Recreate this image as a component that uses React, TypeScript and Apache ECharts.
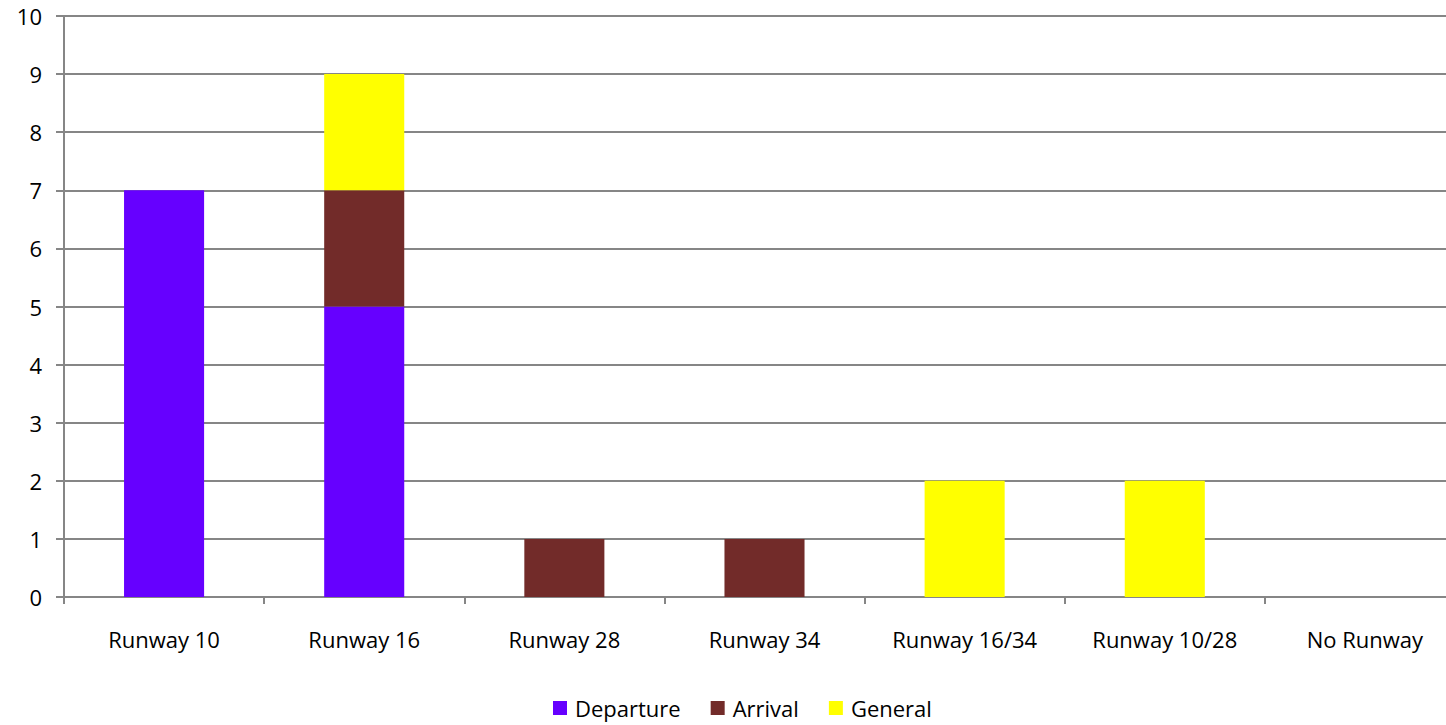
import React, { useEffect, useRef } from "react";
import * as echarts from "echarts";

const categories = ["Runway 10", "Runway 16", "Runway 28", "Runway 34", "Runway 16/34", "Runway 10/28", "No Runway"];
const departure = [7, 5, 0, 0, 0, 0, 0];
const arrival = [0, 2, 1, 1, 0, 0, 0];
const general = [0, 2, 0, 0, 2, 2, 0];

const FONT = "'Open Sans', 'Noto Sans', sans-serif";

export default function App() {
  const ref = useRef<HTMLDivElement>(null);
  useEffect(() => {
    const chart = echarts.init(ref.current!, null, { renderer: "svg" });
    const mk = (name: string, data: number[], color: string) => ({
      name,
      type: "bar",
      stack: "total",
      data: data.map((v) => (v === 0 ? null : v)),
      barWidth: "40%",
      itemStyle: { color },
    });
    chart.setOption({
      animation: false,
      textStyle: { fontFamily: FONT },
      grid: { left: 64, right: 1, top: 16, bottom: 128 },
      legend: {
        bottom: 6,
        left: 553,
        padding: 0,
        itemWidth: 14,
        itemHeight: 14,
        itemGap: 30,
        icon: "rect",
        textStyle: { fontSize: 22, color: "#000", fontFamily: FONT, padding: [0, 0, 0, 3] },
        data: ["Departure", "Arrival", "General"],
      },
      xAxis: {
        type: "category",
        data: categories,
        axisLine: { lineStyle: { color: "#868686", width: 2 } },
        axisTick: { show: true, length: 7, lineStyle: { color: "#868686", width: 2 } },
        axisLabel: { fontSize: 22, color: "#000", margin: 31, fontFamily: FONT },
      },
      yAxis: {
        type: "value",
        min: 0,
        max: 10,
        interval: 1,
        axisLine: { show: true, lineStyle: { color: "#868686", width: 2 } },
        axisTick: { show: true, length: 8, lineStyle: { color: "#868686", width: 2 } },
        splitLine: { lineStyle: { color: "#868686", width: 2 } },
        axisLabel: { fontSize: 22, color: "#000", margin: 22, fontFamily: FONT },
      },
      series: [
        mk("Departure", departure, "#6600FF"),
        mk("Arrival", arrival, "#722B29"),
        mk("General", general, "#FFFF00"),
      ],
    });
    return () => chart.dispose();
  }, []);
  return (
    <div style={{ position: "absolute", left: 0, top: 0, width: 1446, height: 725, overflow: "hidden", background: "#fff" }}>
      <div ref={ref} style={{ width: 1466, height: 725 }} />
    </div>
  );
}
